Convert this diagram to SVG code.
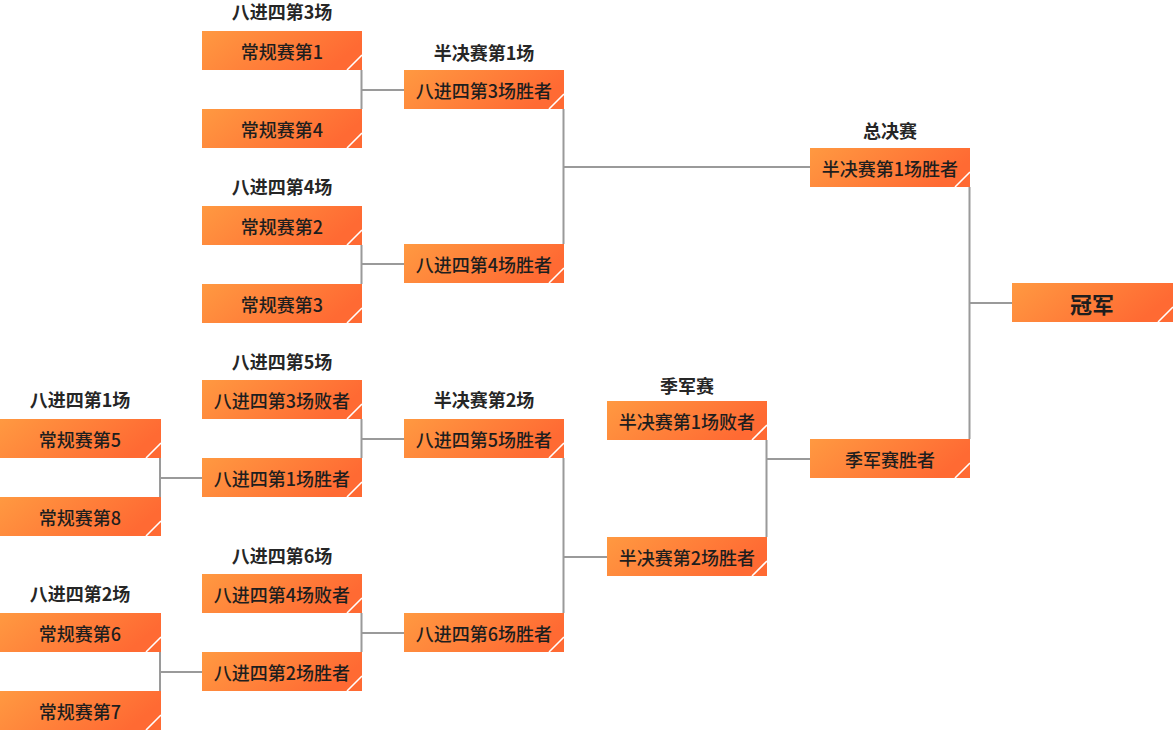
<svg xmlns="http://www.w3.org/2000/svg" width="1174" height="730" viewBox="0 0 1174 730">
<defs>
<linearGradient id="g" x1="0" y1="0" x2="1" y2="0.3">
<stop offset="0" stop-color="#FF9941"/>
<stop offset="1" stop-color="#FF6A33"/>
</linearGradient>
<style>
.b{fill:url(#g)}
.d{stroke:#fff;stroke-width:1.6;fill:none}
.t{font-family:"Noto Sans CJK SC","Noto Sans",sans-serif;font-size:18px;font-weight:500;fill:#1e1e1e;text-anchor:middle;dominant-baseline:central}
.h{font-family:"Noto Sans CJK SC","Noto Sans",sans-serif;font-size:18px;font-weight:bold;fill:#262626;text-anchor:middle;dominant-baseline:central}
.c{stroke:#9a9a9a;stroke-width:2;fill:none}
</style>
</defs>
<rect width="1174" height="730" fill="#fff"/>
<g id="connectors" class="c">
<path d="M361.5 70V109M361.5 90H404"/>
<path d="M361.5 245V284M361.5 264H404"/>
<path d="M361.5 419V458M361.5 439H404"/>
<path d="M361.5 613V652M361.5 633H404"/>
<path d="M160 458V497M160 478H202"/>
<path d="M160 652V691M160 672H202"/>
<path d="M563.5 109V244M563.5 167H810"/>
<path d="M563.5 458V613M563.5 557H607"/>
<path d="M766.5 440V537M766.5 459H810"/>
<path d="M969.5 187V439M969.5 303H1012"/>
</g>
<g id="titles">
<text class="h" x="282" y="11">八进四第3场</text>
<text class="h" x="282" y="186">八进四第4场</text>
<text class="h" x="282" y="361">八进四第5场</text>
<text class="h" x="282" y="555">八进四第6场</text>
<text class="h" x="80" y="399">八进四第1场</text>
<text class="h" x="80" y="593">八进四第2场</text>
<text class="h" x="484" y="52">半决赛第1场</text>
<text class="h" x="484" y="399">半决赛第2场</text>
<text class="h" x="890" y="130">总决赛</text>
<text class="h" x="687" y="385">季军赛</text>
</g>
<g id="n-r5"><rect class="b" x="0" y="419" width="161" height="39"/><path class="d" d="M146 458L161 443"/><text class="t" x="80" y="438.5">常规赛第5</text></g>
<g id="n-r8"><rect class="b" x="0" y="497" width="161" height="39"/><path class="d" d="M146 536L161 521"/><text class="t" x="80" y="516.5">常规赛第8</text></g>
<g id="n-r6"><rect class="b" x="0" y="613" width="161" height="39"/><path class="d" d="M146 652L161 637"/><text class="t" x="80" y="632.5">常规赛第6</text></g>
<g id="n-r7"><rect class="b" x="0" y="691" width="161" height="39"/><path class="d" d="M146 730L161 715"/><text class="t" x="80" y="710.5">常规赛第7</text></g>

<g id="n-r1"><rect class="b" x="202" y="31" width="160" height="39"/><path class="d" d="M347 70L362 55"/><text class="t" x="282" y="50.5">常规赛第1</text></g>
<g id="n-r4"><rect class="b" x="202" y="109" width="160" height="39"/><path class="d" d="M347 148L362 133"/><text class="t" x="282" y="128.5">常规赛第4</text></g>
<g id="n-r2"><rect class="b" x="202" y="206" width="160" height="39"/><path class="d" d="M347 245L362 230"/><text class="t" x="282" y="225.5">常规赛第2</text></g>
<g id="n-r3"><rect class="b" x="202" y="284" width="160" height="39"/><path class="d" d="M347 323L362 308"/><text class="t" x="282" y="303.5">常规赛第3</text></g>
<g id="n-q3l"><rect class="b" x="202" y="380" width="160" height="39"/><path class="d" d="M347 419L362 404"/><text class="t" x="282" y="399.5">八进四第3场败者</text></g>
<g id="n-q1w"><rect class="b" x="202" y="458" width="160" height="39"/><path class="d" d="M347 497L362 482"/><text class="t" x="282" y="477.5">八进四第1场胜者</text></g>
<g id="n-q4l"><rect class="b" x="202" y="574" width="160" height="39"/><path class="d" d="M347 613L362 598"/><text class="t" x="282" y="593.5">八进四第4场败者</text></g>
<g id="n-q2w"><rect class="b" x="202" y="652" width="160" height="39"/><path class="d" d="M347 691L362 676"/><text class="t" x="282" y="671.5">八进四第2场胜者</text></g>

<g id="n-q3w"><rect class="b" x="404" y="70" width="160" height="39"/><path class="d" d="M549 109L564 94"/><text class="t" x="484" y="89.5">八进四第3场胜者</text></g>
<g id="n-q4w"><rect class="b" x="404" y="244" width="160" height="39"/><path class="d" d="M549 283L564 268"/><text class="t" x="484" y="263.5">八进四第4场胜者</text></g>
<g id="n-q5w"><rect class="b" x="404" y="419" width="160" height="39"/><path class="d" d="M549 458L564 443"/><text class="t" x="484" y="438.5">八进四第5场胜者</text></g>
<g id="n-q6w"><rect class="b" x="404" y="613" width="160" height="39"/><path class="d" d="M549 652L564 637"/><text class="t" x="484" y="632.5">八进四第6场胜者</text></g>

<g id="n-s1l"><rect class="b" x="607" y="401" width="160" height="39"/><path class="d" d="M752 440L767 425"/><text class="t" x="687" y="420.5">半决赛第1场败者</text></g>
<g id="n-s2w"><rect class="b" x="607" y="537" width="160" height="39"/><path class="d" d="M752 576L767 561"/><text class="t" x="687" y="556.5">半决赛第2场胜者</text></g>

<g id="n-s1w"><rect class="b" x="810" y="148" width="160" height="39"/><path class="d" d="M955 187L970 172"/><text class="t" x="890" y="167.5">半决赛第1场胜者</text></g>
<g id="n-3rd"><rect class="b" x="810" y="439" width="160" height="39"/><path class="d" d="M955 478L970 463"/><text class="t" x="890" y="458.5">季军赛胜者</text></g>

<g id="n-champ"><rect class="b" x="1012" y="283" width="161" height="39"/><path class="d" d="M1158 322L1173 307"/><text class="h" x="1092" y="302.5" style="font-size:22px;fill:#1e1e1e">冠军</text></g>
</svg>
